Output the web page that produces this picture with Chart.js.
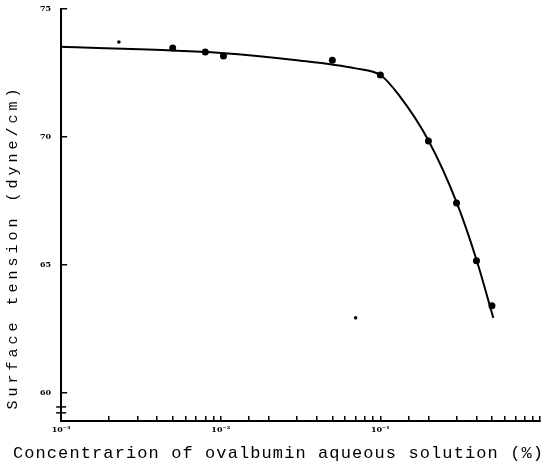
<!DOCTYPE html>
<html>
<head>
<meta charset="utf-8">
<script src="https://cdn.jsdelivr.net/npm/chart.js@4.4.1/dist/chart.umd.min.js"></script>
<style>
  html, body { margin: 0; padding: 0; background: #fff; }
  #wrap { width: 554px; height: 468px; }
</style>
</head>
<body>
<div id="wrap"><canvas id="myChart"></canvas></div>
<script>
// measured points: concentration (%) vs surface tension (dyne/cm)
var concPoints = [0.0023, 0.005, 0.008, 0.0104, 0.05, 0.1, 0.2, 0.3, 0.4, 0.5, 0.07];
var tensionPoints = [73.71, 73.48, 73.32, 73.16, 73.0, 72.42, 69.84, 67.42, 65.16, 63.40, 62.93];
var pointSizes = [1.8, 3.5, 3.5, 3.5, 3.5, 3.5, 3.5, 3.5, 3.5, 3.5, 1.8];

// hand drawn curve through the points
var curveConc = [0.001, 0.01, 0.03, 0.07, 0.1, 0.13, 0.2, 0.3, 0.4, 0.51];
var curveTension = [73.52, 73.28, 73.0, 72.68, 72.42, 71.65, 69.86, 67.45, 65.2, 62.93];

var yTicks = [60, 65, 70, 75];
var xLabels = { '0.001': '10\u207B\u00B3', '0.01': '10\u207B\u00B2', '0.1': '10\u207B\u00B9' };

var yTitle = 'Surface tension (dyne/cm)';
var xTitle = 'Concentrarion of ovalbumin aqueous solution (%)';

var ctx = document.getElementById('myChart');

// little axis break on the y axis, near the bottom
var axisBreak = {
  id: 'axisBreak',
  afterDraw(chart) {
    var y = chart.scales.y, c = chart.ctx;
    var x0 = chart.chartArea.left;
    c.save();
    c.strokeStyle = '#000';
    c.lineWidth = 1.5;
    [59.45, 59.22].forEach(function (v) {
      var py = y.getPixelForValue(v);
      c.beginPath();
      c.moveTo(x0 - 5, py);
      c.lineTo(x0 + 5, py);
      c.stroke();
    });
    c.restore();
  }
};

// wide spaced axis titles, placed like in the scan
// x title is wider than the plot, so give it the whole canvas width while drawing
var spacedTitles = {
  id: 'spacedTitles',
  beforeDraw(chart) {
    var sx = chart.scales.x, sy = chart.scales.y;
    if (!sx._spaced) {
      var origX = sx.drawTitle;
      sx.drawTitle = function () {
        var c = this.ctx, l = this.left, r = this.right;
        c.save();
        c.letterSpacing = '1.1px';
        this.left = 8; this.right = 549;
        origX.call(this);
        this.left = l; this.right = r;
        c.restore();
      };
      sx._spaced = true;
    }
    if (!sy._spaced) {
      var origY = sy.drawTitle;
      sy.drawTitle = function () {
        var c = this.ctx;
        c.save();
        c.letterSpacing = '4px';
        c.translate(4, 32);
        origY.call(this);
        c.restore();
      };
      sy._spaced = true;
    }
  }
};

var myChart = new Chart(ctx, {
  type: 'scatter',
  data: {
    datasets: [
      {
        label: 'curve',
        type: 'line',
        data: curveConc.map((c, i) => ({ x: c, y: curveTension[i] })),
        borderColor: '#000',
        borderWidth: 2,
        pointRadius: 0,
        cubicInterpolationMode: 'monotone',
        fill: false
      },
      {
        label: 'measured',
        data: concPoints.map((c, i) => ({ x: c, y: tensionPoints[i] })),
        backgroundColor: '#000',
        borderColor: '#000',
        pointRadius: pointSizes,
        pointBorderWidth: 0
      }
    ]
  },
  options: {
    responsive: true,
    maintainAspectRatio: false,
    animation: false,
    layout: { padding: { top: 0, left: 0, right: 0, bottom: 4 } },
    plugins: { legend: { display: false }, tooltip: { enabled: false } },
    scales: {
      x: {
        type: 'logarithmic',
        min: 0.001,
        max: 1,
        afterFit: function (s) { s.paddingLeft = 0; s.paddingRight = 14; },
        border: { color: '#000', width: 2 },
        grid: { drawOnChartArea: false, drawTicks: true, tickLength: -5, color: '#000', lineWidth: 1.5 },
        ticks: {
          autoSkip: false,
          maxRotation: 0,
          padding: 9,
          color: '#000',
          font: { family: 'DejaVu Serif', size: 8, weight: 'bold' },
          callback: function (v) {
            var k = String(+v.toPrecision(3));
            return xLabels[k] || '';
          }
        },
        title: {
          display: true,
          text: xTitle,
          color: '#000',
          font: { family: 'Liberation Mono', size: 17 },
          padding: { top: 0, bottom: 0 }
        }
      },
      y: {
        min: 58.9,
        max: 75,
        afterBuildTicks: function (s) { s.ticks = yTicks.map(v => ({ value: v })); },
        afterFit: function (s) { s.paddingTop = 9; s.paddingBottom = 0; },
        border: { color: '#000', width: 2 },
        grid: { drawOnChartArea: false, drawTicks: true, tickLength: -6, color: '#000', lineWidth: 1.5 },
        ticks: {
          padding: 16,
          color: '#000',
          font: { family: 'DejaVu Serif', size: 8, weight: 'bold' }
        },
        title: {
          display: true,
          text: yTitle,
          color: '#000',
          font: { family: 'Liberation Mono', size: 15 },
          padding: { top: 0, bottom: 6 }
        }
      }
    }
  },
  plugins: [spacedTitles, axisBreak]
});
</script>
</body>
</html>
